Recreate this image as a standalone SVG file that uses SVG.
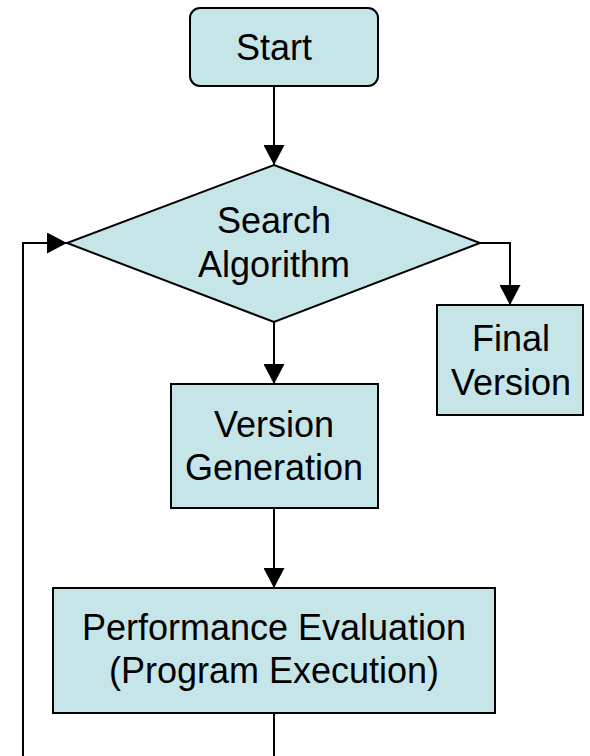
<svg xmlns="http://www.w3.org/2000/svg" width="590" height="756" viewBox="0 0 590 756">
  <style>
    .box { fill: #C6E5E9; stroke: #000; stroke-width: 2; }
    .lbl { font-family: "Liberation Sans", Arial, sans-serif; font-size: 36px; fill: #000; text-anchor: middle; }
    .wire { fill: none; stroke: #000; stroke-width: 2; }
  </style>
  <defs>
    <marker id="head" viewBox="0 0 20 21" refX="20" refY="10.5" markerWidth="20" markerHeight="21" markerUnits="userSpaceOnUse" orient="auto">
      <path d="M0,0 L20,10.5 L0,21 Z" fill="#000"/>
    </marker>
  </defs>

  <g id="connectors">
    <path class="wire" d="M274,86 V165" marker-end="url(#head)"/>
    <path class="wire" d="M480,243 H510 V305" marker-end="url(#head)"/>
    <path class="wire" d="M274,322 V384" marker-end="url(#head)"/>
    <path class="wire" d="M274,508 V588" marker-end="url(#head)"/>
    <path class="wire" d="M274,713 V756"/>
    <path class="wire" d="M23,756 V243 H67" marker-end="url(#head)"/>
  </g>

  <g id="start">
    <rect class="box" x="190" y="8" width="188" height="78" rx="10" ry="10"/>
    <text class="lbl" x="274" y="60">Start</text>
  </g>

  <g id="search">
    <polygon class="box" points="274,165 480,243 274,322 67,243"/>
    <text class="lbl" x="274" y="233">Search</text>
    <text class="lbl" x="274" y="277">Algorithm</text>
  </g>

  <g id="final">
    <rect class="box" x="437" y="305" width="146" height="110"/>
    <text class="lbl" x="511" y="351">Final</text>
    <text class="lbl" x="511" y="395">Version</text>
  </g>

  <g id="generation">
    <rect class="box" x="171" y="384" width="207" height="124"/>
    <text class="lbl" x="274" y="437">Version</text>
    <text class="lbl" x="274" y="480">Generation</text>
  </g>

  <g id="evaluation">
    <rect class="box" x="53" y="588" width="442" height="125"/>
    <text class="lbl" x="274" y="640">Performance Evaluation</text>
    <text class="lbl" x="274" y="683">(Program Execution)</text>
  </g>
</svg>
